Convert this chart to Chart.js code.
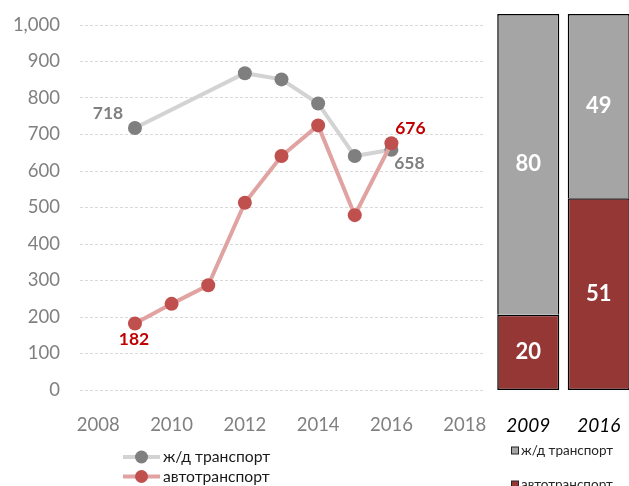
<!DOCTYPE html>
<html><head><meta charset="utf-8">
<script src="https://cdn.jsdelivr.net/npm/chart.js@4/dist/chart.umd.min.js"></script>
<style>
html,body{margin:0;padding:0;background:#fff;overflow:hidden;width:629px;height:486px;position:relative;}
#c1{position:absolute;left:0;top:0;}
#c2{position:absolute;left:490px;top:0;}
</style></head><body>
<canvas id="c1" width="490" height="486"></canvas>
<canvas id="c2" width="145" height="486"></canvas>
<script>
// ---- data ----
const years = [2009, 2010, 2011, 2012, 2013, 2014, 2015, 2016];
const railVolume = [718, null, null, 868, 851, 785, 641, 658];
const roadVolume = [182, 236, 287, 513, 641, 725, 479, 676];
const xTickValues = [2008, 2010, 2012, 2014, 2016, 2018];
const yTickValues = [0, 100, 200, 300, 400, 500, 600, 700, 800, 900, 1000];
const seriesNames = ['ж/д транспорт', 'автотранспорт'];
const shareYears = ['2009', '2016'];
const railShare = [80, 49];
const roadShare = [20, 51];

const FONT = 'Lato, "Open Sans", sans-serif';

function toPoints(vals) {
  const out = [];
  years.forEach((y, i) => { if (vals[i] !== null) out.push({x: y, y: vals[i]}); });
  return out;
}
function noPad(axis) { axis.paddingTop = 0; axis.paddingBottom = 0; axis.paddingLeft = 0; axis.paddingRight = 0; }

// labels on first/last points (styling only)
const pointLabelStyle = [
  {ds: 0, first: {dx: -27, dy: -15}, last: {dx: 18, dy: 14}, color: '#7f7f7f'},
  {ds: 1, first: {dx: -1, dy: 16}, last: {dx: 19, dy: -15}, color: '#c00000'}
];

const lineLabelsPlugin = {
  id: 'lineLabels',
  afterDatasetsDraw(chart) {
    const ctx = chart.ctx;
    ctx.save();
    ctx.font = 'bold 17.5px ' + FONT;
    ctx.textAlign = 'center';
    ctx.textBaseline = 'middle';
    pointLabelStyle.forEach(s => {
      const meta = chart.getDatasetMeta(s.ds);
      const data = chart.data.datasets[s.ds].data;
      ctx.fillStyle = s.color;
      const f = meta.data[0], l = meta.data[meta.data.length - 1];
      ctx.fillText(String(data[0].y), f.x + s.first.dx, f.y + s.first.dy);
      ctx.fillText(String(data[data.length - 1].y), l.x + s.last.dx, l.y + s.last.dy);
    });
    ctx.restore();
  }
};

const lineLegendPlugin = {
  id: 'lineLegend',
  afterDraw(chart) {
    const ctx = chart.ctx;
    ctx.save();
    const rows = [{ds: 0, y: 457}, {ds: 1, y: 476.5}];
    rows.forEach(r => {
      const d = chart.data.datasets[r.ds];
      ctx.strokeStyle = d.borderColor;
      ctx.lineWidth = 4;
      ctx.beginPath(); ctx.moveTo(123, r.y); ctx.lineTo(160, r.y); ctx.stroke();
      ctx.fillStyle = d.pointBackgroundColor;
      ctx.beginPath(); ctx.arc(141.5, r.y, 6.5, 0, Math.PI * 2); ctx.fill();
      ctx.fillStyle = '#1a1a1a';
      ctx.font = '15.7px ' + FONT;
      ctx.textAlign = 'left';
      ctx.textBaseline = 'middle';
      ctx.fillText(d.label, 163, r.y);
    });
    ctx.restore();
  }
};

new Chart(document.getElementById('c1'), {
  type: 'scatter',
  data: {
    datasets: [
      {label: seriesNames[0], data: toPoints(railVolume), showLine: true,
       borderColor: '#d3d3d3', borderWidth: 4, pointRadius: 7, pointBorderWidth: 0,
       pointBackgroundColor: '#7f7f7f', pointHoverRadius: 7, order: 1},
      {label: seriesNames[1], data: toPoints(roadVolume), showLine: true,
       borderColor: '#e0a3a2', borderWidth: 4, pointRadius: 7, pointBorderWidth: 0,
       pointBackgroundColor: '#c0504d', pointHoverRadius: 7, order: 0}
    ]
  },
  options: {
    responsive: false, animation: false, devicePixelRatio: 1,
    layout: {padding: {left: 0, right: 7, top: 25, bottom: 0}},
    plugins: {legend: {display: false}, tooltip: {enabled: false}},
    scales: {
      x: {
        type: 'linear', min: 2007.5, max: 2018.5,
        afterBuildTicks: (axis) => { axis.ticks = xTickValues.map(v => ({value: v})); },
        afterFit: (axis) => { axis.height = 96; noPad(axis); },
        grid: {display: false}, border: {display: false},
        ticks: {color: '#808080', font: {family: FONT, size: 18.5}, padding: 16, callback: v => String(v), maxRotation: 0}
      },
      y: {
        min: 0, max: 1000,
        afterBuildTicks: (axis) => { axis.ticks = yTickValues.map(v => ({value: v})); },
        afterFit: (axis) => { axis.width = 80; noPad(axis); },
        grid: {color: '#d9d9d9', lineWidth: 1, drawTicks: false},
        border: {display: false, dash: [3, 2]},
        ticks: {color: '#808080', font: {family: FONT, size: 18.5}, padding: 20,
                callback: v => v.toLocaleString('en-US')}
      }
    }
  },
  plugins: [lineLabelsPlugin, lineLegendPlugin]
});

// ---- share bars ----
const barLabelsPlugin = {
  id: 'barLabels',
  afterDatasetsDraw(chart) {
    const ctx = chart.ctx;
    ctx.save();
    ctx.font = 'bold 22px ' + FONT;
    ctx.fillStyle = '#ffffff';
    ctx.textAlign = 'center';
    ctx.textBaseline = 'middle';
    chart.data.datasets.forEach((d, di) => {
      chart.getDatasetMeta(di).data.forEach((bar, i) => {
        ctx.fillText(String(d.data[i]), bar.x, (bar.y + bar.base) / 2);
      });
    });
    ctx.restore();
  }
};

const barLegendPlugin = {
  id: 'barLegend',
  afterDraw(chart) {
    const ctx = chart.ctx;
    ctx.save();
    const rows = [{ds: 1, y: 450.5}, {ds: 0, y: 484.5}];
    rows.forEach(r => {
      const d = chart.data.datasets[r.ds];
      ctx.fillStyle = d.backgroundColor;
      ctx.fillRect(21.5, r.y - 3.5, 7, 7);
      ctx.strokeStyle = '#262626';
      ctx.lineWidth = 1;
      ctx.strokeRect(21.5, r.y - 3.5, 7, 7);
      ctx.fillStyle = '#262626';
      ctx.font = '13.5px ' + FONT;
      ctx.textAlign = 'left';
      ctx.textBaseline = 'middle';
      ctx.fillText(d.label, 31, r.y);
    });
    ctx.restore();
  }
};

new Chart(document.getElementById('c2'), {
  type: 'bar',
  data: {
    labels: shareYears,
    datasets: [
      {label: seriesNames[1], data: roadShare, backgroundColor: '#953735', borderColor: '#000000',
       borderWidth: 1.5, borderSkipped: false, barPercentage: 0.88, categoryPercentage: 1},
      {label: seriesNames[0], data: railShare, backgroundColor: '#a5a5a5', borderColor: '#000000',
       borderWidth: 1.5, borderSkipped: 'start', barPercentage: 0.88, categoryPercentage: 1}
    ]
  },
  options: {
    responsive: false, animation: false, devicePixelRatio: 1,
    layout: {padding: {left: 3, right: 1, top: 14, bottom: 0}},
    plugins: {legend: {display: false}, tooltip: {enabled: false}},
    scales: {
      x: {
        stacked: true,
        afterFit: (axis) => { axis.height = 96; noPad(axis); },
        grid: {display: false}, border: {display: false},
        ticks: {color: '#000000', font: {family: FONT, size: 19, style: 'italic'}, padding: 16, maxRotation: 0}
      },
      y: {stacked: true, min: 0, max: 100, display: false}
    }
  },
  plugins: [barLabelsPlugin, barLegendPlugin]
});
</script>
</body></html>
